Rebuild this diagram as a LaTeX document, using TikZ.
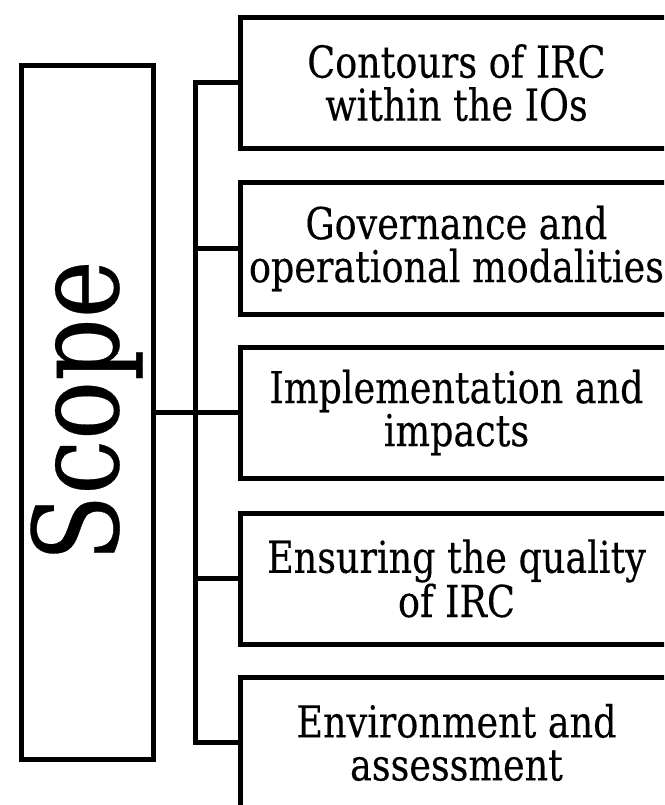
\documentclass[tikz,border=0pt]{standalone}
\usepackage{fontspec}
\setmainfont[FakeStretch=0.83,FakeBold=0.25]{DejaVu Serif}
\begin{document}
\begin{tikzpicture}[x=1pt,y=-1pt,line width=5pt,
  box/.style={draw, line width=5pt, minimum width=432pt, minimum height=131pt,
    inner sep=0pt, align=center, anchor=north west,
    font=\fontsize{44}{43}\selectfont},
  scopebox/.style={draw, line width=5pt, minimum width=131.5pt, minimum height=694pt,
    inner sep=0pt, anchor=north west},
  conn/.style={draw, line width=5pt}]
\useasboundingbox (0,0) rectangle (664,805);
\clip (0,0) rectangle (664,805);
\node[scopebox] (scope) at (19,63.3) {};
\node[rotate=90, anchor=base, inner sep=0pt, font=\fontsize{118}{118}\selectfont] (scopetext) at (118,411) {Scope};
\node[box] (b1) at (238,14.7) {Contours of IRC\\within the IOs};
\node[box] (b2) at (238,180.5) {Governance and\\operational modalities};
\node[box] (b3) at (238,344.5) {Implementation and\\impacts};
\node[box] (b4) at (238,510.5) {Ensuring the quality\\of IRC};
\node[box] (b5) at (238,674.5) {Environment and\\assessment};
\coordinate (busx) at (195,0);
\draw[conn] (b1.west) -- (b1.west -| busx) -- (b5.west -| busx) -- (b5.west);
\draw[conn] (b2.west) -- (b2.west -| busx);
\draw[conn] (b4.west) -- (b4.west -| busx);
\draw[conn] (b3.west) -- (b3.west -| scope.east);
\end{tikzpicture}
\end{document}
